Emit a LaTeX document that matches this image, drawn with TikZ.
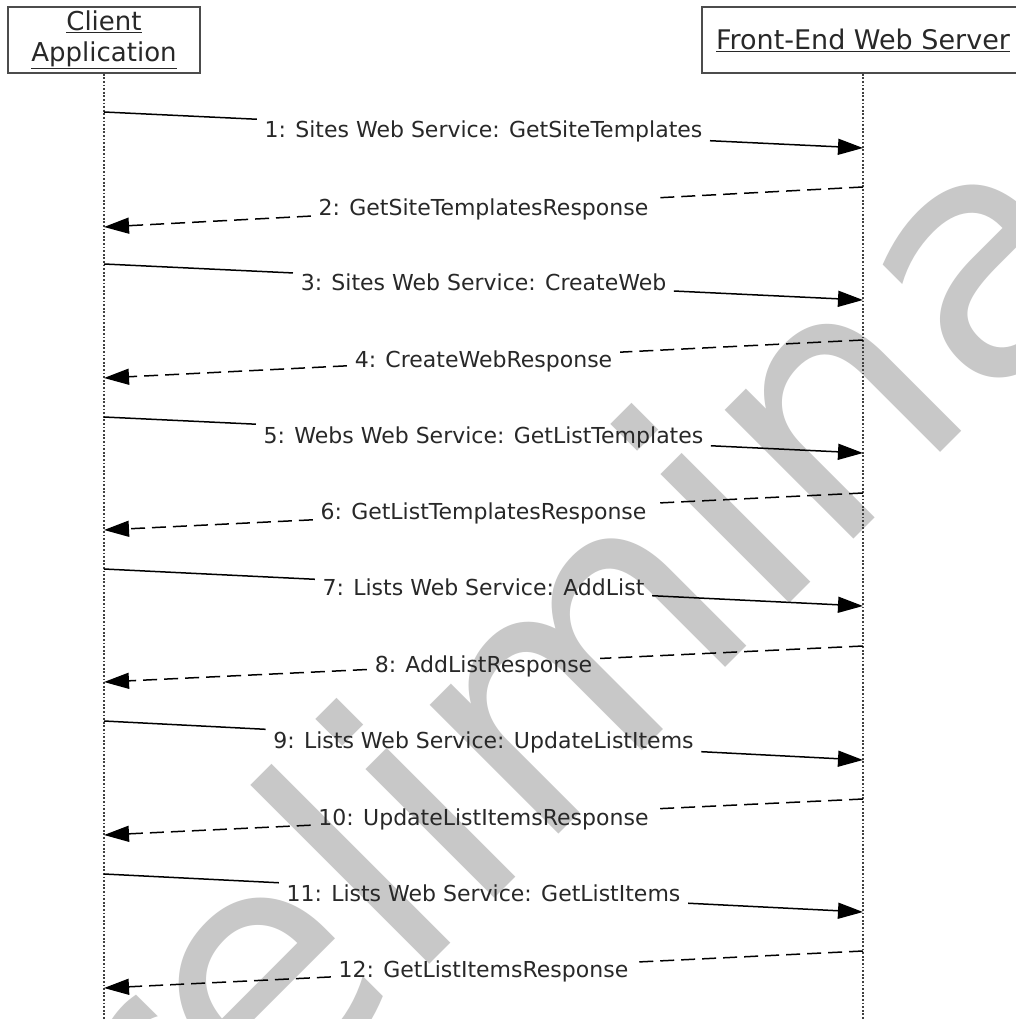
\documentclass[tikz,border=0pt]{standalone}
\usepackage{fontspec}
\setmainfont{DejaVu Sans}
\usetikzlibrary{arrows.meta,calc}
\definecolor{wm}{RGB}{200,200,200}
\definecolor{ink}{RGB}{40,40,40}
\begin{document}
\begin{tikzpicture}[x=1pt,y=-1pt,
  hdr/.style={draw=black!70, line width=1.5pt, inner sep=0pt, text=ink, align=center},
  life/.style={draw=black!75, line width=1.2pt, dash pattern=on 1.8pt off 1.8pt},
  msg/.style={font=\fontsize{22}{26}\selectfont, text=ink, inner sep=8pt, text height=16pt, text depth=0pt},
  call/.style={line width=1.5pt, draw=black},
  reply/.style={line width=1.5pt, draw=black, dash pattern=on 14pt off 7pt},
  tip/.style={-{Triangle[length=25pt,width=16pt]}},
]
\useasboundingbox (0,0) rectangle (1016,1019);
\fill[white] (0,0) rectangle (1016,1019);
% watermark
\node[font=\fontsize{333}{333}\selectfont, text=wm, rotate=45, anchor=base west, inner sep=0pt] (wmark) at (32.5,1360.6) {Preliminary};
% headers
\node[hdr, minimum width=192pt, minimum height=66pt, font=\fontsize{26}{31}\selectfont] (client) at (104,40) {\underline{Client}\\\underline{Application}};
\node[hdr, minimum width=322pt, minimum height=66pt, font=\fontsize{27}{31}\selectfont] (server) at (863,40) {\underline{Front-End Web Server}};
% lifelines
\coordinate (cbot) at (104,1019);
\coordinate (sbot) at (863,1019);
\draw[life] (client.south) -- (cbot);
\draw[life] (server.south) -- (sbot);
% requests
\foreach \i/\ya/\yb/\t in {1/112/148/{1: Sites Web Service: GetSiteTemplates},
  3/264/300/{3: Sites Web Service: CreateWeb},
  5/417/453/{5: Webs Web Service: GetListTemplates},
  7/569/606/{7: Lists Web Service: AddList},
  9/721/760/{9: Lists Web Service: UpdateListItems},
  11/874/912/{11: Lists Web Service: GetListItems}}{
  \coordinate (m\i a) at (104,\ya);
  \coordinate (m\i b) at (863,\yb);
  \path (m\i a) -- (m\i b) node[msg, pos=0.5] (l\i) {\t};
  \draw[call] (m\i a) -- ($(m\i a)!(l\i.west)!(m\i b)$);
  \draw[call,tip] ($(m\i a)!(l\i.east)!(m\i b)$) -- (m\i b);
}
% responses
\foreach \i/\ya/\yb/\t in {2/187/227/{2: GetSiteTemplatesResponse},
  4/340/378/{4: CreateWebResponse},
  6/493/530/{6: GetListTemplatesResponse},
  8/646/682/{8: AddListResponse},
  10/799/835/{10: UpdateListItemsResponse},
  12/951/988/{12: GetListItemsResponse}}{
  \coordinate (m\i a) at (863,\ya);
  \coordinate (m\i b) at (104,\yb);
  \path (m\i a) -- (m\i b) node[msg, pos=0.5] (l\i) {\t};
  \draw[reply] (m\i a) -- ($(m\i a)!(l\i.east)!(m\i b)$);
  \draw[reply,tip] ($(m\i a)!(l\i.west)!(m\i b)$) -- (m\i b);
}
\end{tikzpicture}
\end{document}
